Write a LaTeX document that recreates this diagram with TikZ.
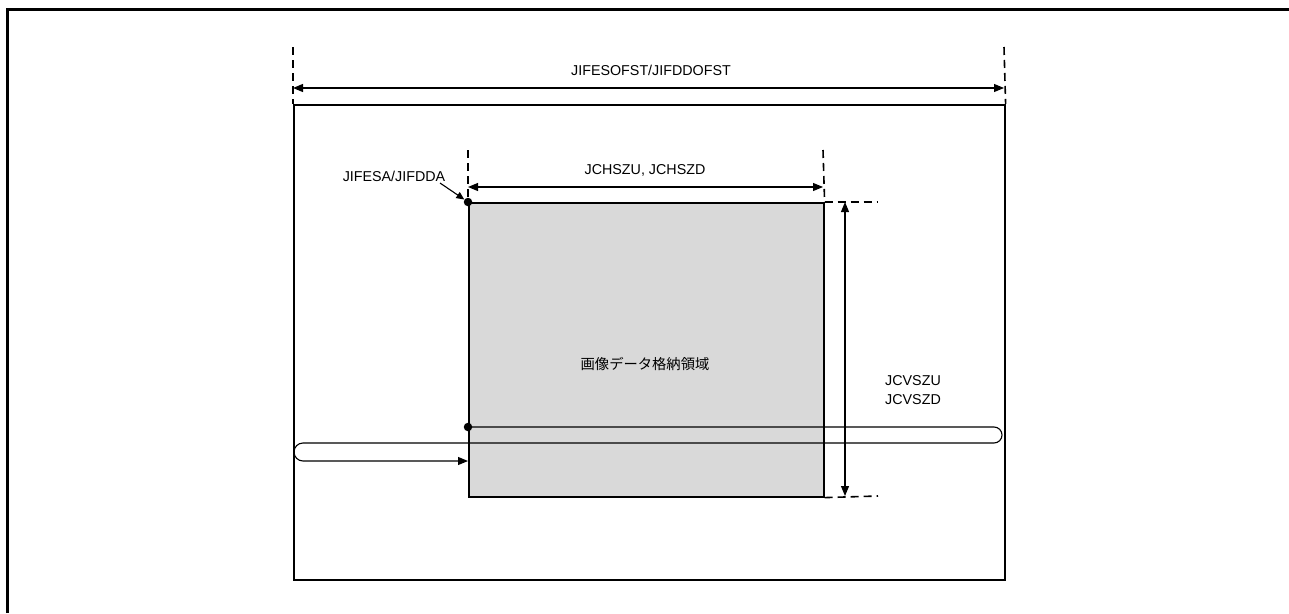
\documentclass[tikz,border=0pt]{standalone}
\usepackage{fontspec}
\setmainfont{Liberation Sans}
\newfontfamily\cjk{Noto Sans CJK JP}
\usetikzlibrary{arrows.meta}
\tikzset{
  dim/.style={line width=1.1pt, {Triangle[length=10pt,width=8pt]}-{Triangle[length=10pt,width=8pt]}},
  ext/.style={line width=1.6pt, dash pattern=on 8pt off 5pt},
  box/.style={draw, line width=1.6pt},
  lbl/.style={font=\fontsize{14.3}{17}\selectfont, inner sep=0pt},
  dot/.style={circle, fill=black, inner sep=0pt, minimum size=8.5pt},
  thin/.style={line width=1.1pt}
}
\begin{document}
\begin{tikzpicture}[x=1pt,y=-1pt]
\useasboundingbox (0,0) rectangle (1289,613);
% outer frame
\draw[line width=3pt] (7,613) -- (7,9) -- (1289,9);
% page
\node[box, minimum width=711pt, minimum height=475pt, anchor=north west, inner sep=0pt] (page) at (293,104) {};
% image area
\node[box, fill=black!15, minimum width=355pt, minimum height=294pt, anchor=north west, inner sep=0pt] (img) at (468,202) {};
\node[lbl, font=\cjk\fontsize{14.3}{17}\selectfont] (imgtxt) at (645,364) {画像データ格納領域};
% top dimension
\coordinate (tl) at (293,47);
\coordinate (tr) at (1004,47);
\draw[ext] (tl) -- (page.north west);
\draw[ext] (tr) -- (page.north east);
\coordinate (al) at (293,88);
\coordinate (ar) at (1004,88);
\draw[dim] (al) -- (ar);
\node[lbl] (toplbl) at (651,70) {JIFESOFST/JIFDDOFST};
% horizontal size
\coordinate (hl) at (468,150);
\coordinate (hr) at (823,150);
\draw[ext] (hl) -- (img.north west);
\draw[ext] (hr) -- (img.north east);
\coordinate (hal) at (468,187);
\coordinate (har) at (823,187);
\draw[dim] (hal) -- (har);
\node[lbl] (hlbl) at (645,170) {JCHSZU, JCHSZD};
% vertical size
\coordinate (vt) at (878,202);
\coordinate (vb) at (878,496);
\draw[ext] (img.north east) -- (vt);
\draw[ext] (img.south east) -- (vb);
\coordinate (vat) at (845,202);
\coordinate (vab) at (845,496);
\draw[dim] (vat) -- (vab);
\node[lbl, align=left, anchor=west] (vlbl) at (885,390) {JCVSZU\\[2pt]JCVSZD};
% start address
\node[dot] (d1) at (468,202) {};
\node[lbl] (alab) at (394,176) {JIFESA/JIFDDA};
\draw[thin, -{Triangle[length=8pt,width=7pt]}] (440,183) -- (d1);
% scan line
\node[dot] (d2) at (468,427) {};
\coordinate (e1) at (468,461);
\draw[thin, -{Triangle[length=10pt,width=8pt]}] (d2.center) -- (994,427) arc[start angle=90, end angle=-90, radius=8pt] -- (303,443) arc[start angle=90, end angle=270, radius=9pt] -- (e1);
\end{tikzpicture}
\end{document}
